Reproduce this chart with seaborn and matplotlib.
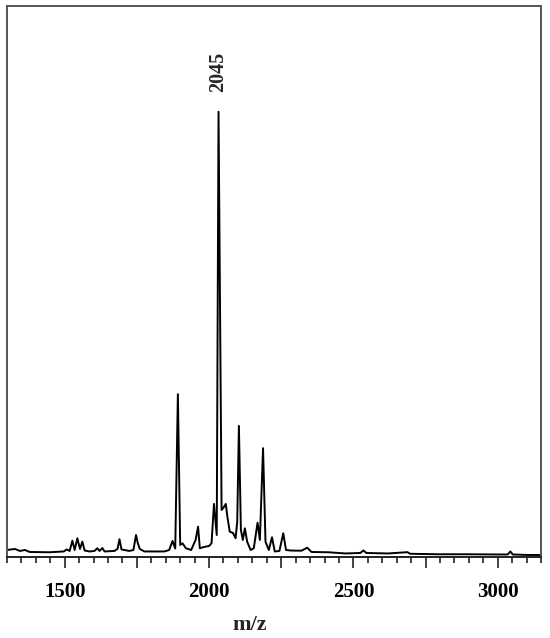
import numpy as np
import pandas as pd
import matplotlib
matplotlib.use("Agg")
import matplotlib.pyplot as plt
import seaborn as sns
from matplotlib.ticker import MultipleLocator, FixedLocator, FixedFormatter

# -----------------------------
# Spectrum trace
# m/z and relative intensity (%), main peak = 100
# -----------------------------
mz = [1300, 1327.6, 1344.8, 1362, 1379, 1448, 1496.6, 1507, 1517, 1526.6,
      1534.5, 1543.8, 1552.8, 1561, 1569, 1586, 1603, 1612.8, 1620.7, 1630,
      1638, 1672, 1682.8, 1689.7, 1696.6, 1724, 1738, 1747, 1753, 1760,
      1776, 1810, 1845, 1862, 1873.4, 1882.8, 1892, 1900, 1908, 1919.7,
      1938, 1953.4, 1962, 1968, 1982.8, 2000, 2008.6, 2017, 2026.6, 2032.8,
      2043.4, 2048.6, 2058, 2063.4, 2071.7, 2083, 2092, 2097.6, 2103.4, 2110.3,
      2117, 2124, 2132, 2143.8, 2155, 2168, 2176, 2187, 2195.5, 2207,
      2218, 2227.6, 2243.8, 2257, 2266.6, 2281.7, 2300, 2320.7, 2340, 2355,
      2413.8, 2471.4, 2524, 2534.5, 2545, 2620.7, 2687, 2696.6, 2793, 2896.6,
      3000, 3034.5, 3043.8, 3051.7, 3103, 3150]
intensity = [1.57, 1.80, 1.35, 1.57, 1.12, 1.06, 1.24, 1.69, 1.35, 3.66,
             1.57, 4.20, 1.80, 3.44, 1.46, 1.24, 1.35, 1.96, 1.35, 2.02,
             1.24, 1.35, 1.80, 3.98, 1.69, 1.35, 1.57, 4.94, 3.15, 1.80,
             1.24, 1.24, 1.24, 1.57, 3.60, 1.91, 36.56, 2.70, 3.08, 1.96,
             1.57, 3.82, 6.81, 1.96, 2.25, 2.47, 3.08, 11.91, 4.94, 100.0,
             10.56, 10.94, 11.91, 9.06, 5.69, 5.39, 4.20, 7.93, 29.44, 6.07,
             3.82, 6.45, 3.44, 1.57, 1.96, 7.71, 3.82, 24.43, 3.44, 1.57,
             4.43, 1.24, 1.35, 5.33, 1.57, 1.46, 1.42, 1.42, 2.09, 1.12,
             1.06, 0.79, 0.90, 1.46, 0.90, 0.79, 1.08, 0.72, 0.61, 0.61,
             0.56, 0.56, 1.24, 0.56, 0.45, 0.45]

peak_mz = 2032.8
peak_label = "2045"

major_ticks = [1500, 1750, 2000, 2250, 2500, 2750, 3000]
major_labels = ["1500", "", "2000", "", "2500", "", "3000"]

spec = pd.DataFrame({"mz": mz, "intensity": intensity})

# -----------------------------
# Plot
# -----------------------------
sns.set_style("ticks")
plt.rcParams["font.family"] = ["Liberation Serif", "DejaVu Serif"]

fig = plt.figure(figsize=(5.5, 6.38), dpi=100)
ax = fig.add_axes([0.0127, 0.127, 0.971, 0.864])

sns.lineplot(data=spec, x="mz", y="intensity", ax=ax,
             color="black", lw=1.4, sort=False)

ax.text(peak_mz, 104.5, peak_label, rotation=90, ha="center", va="bottom",
        fontsize=14.5, fontweight="bold")

ax.set_xlim(1300, 3150)
ax.set_ylim(0, 123.8)

ax.xaxis.set_major_locator(FixedLocator(major_ticks))
ax.xaxis.set_major_formatter(FixedFormatter(major_labels))
ax.xaxis.set_minor_locator(MultipleLocator(50))
ax.tick_params(axis="x", which="major", length=8, width=1.2, direction="out",
               labelsize=15, pad=10, colors="#222222")
ax.tick_params(axis="x", which="minor", length=4.5, width=1.2, direction="out",
               colors="#222222")
for lbl in ax.get_xticklabels():
    lbl.set_fontweight("bold")
    lbl.set_color("black")

ax.set_yticks([])
ax.set_ylabel("")
ax.set_xlabel("m/z", fontsize=16, fontweight="bold")
ax.xaxis.set_label_coords(0.455, -0.105)

for side in ["top", "right", "left", "bottom"]:
    ax.spines[side].set_visible(True)
    ax.spines[side].set_color("#555555")
    ax.spines[side].set_linewidth(1.4)
ax.spines["bottom"].set_color("#222222")

fig.savefig("out.png", dpi=100)
plt.close(fig)
